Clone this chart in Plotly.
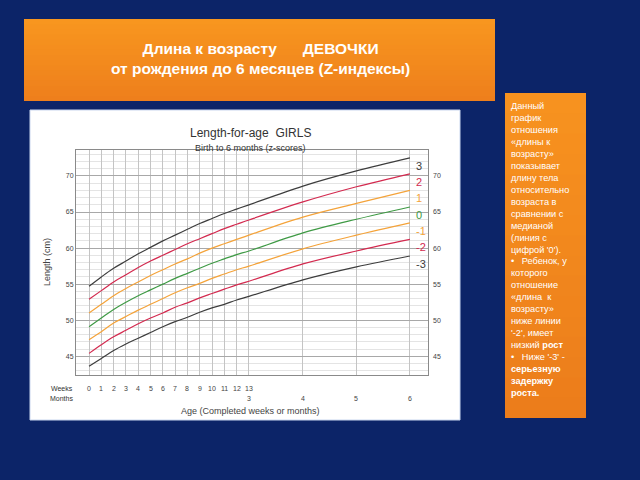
import plotly.graph_objects as go

# возраст: недели 0-13, затем месяцы 4-6
weeks = list(range(0, 14))
months = [4, 5, 6]
month_ticks = [3, 4, 5, 6]
WEEKS_PER_MONTH = 30.4375 / 7

# z-индексы, длина (см)
z_labels = ['3', '2', '1', '0', '-1', '-2', '-3']
len_p3 = [54.7, 56.0, 57.2, 58.2, 59.2, 60.1, 61.0, 61.8, 62.6, 63.4, 64.1, 64.8, 65.4, 66.0, 68.6, 70.7, 72.5]
len_p2 = [52.9, 54.1, 55.3, 56.3, 57.3, 58.2, 59.0, 59.8, 60.6, 61.3, 62.0, 62.7, 63.3, 63.9, 66.4, 68.5, 70.3]
len_p1 = [51.0, 52.2, 53.4, 54.4, 55.3, 56.2, 57.0, 57.8, 58.5, 59.3, 60.0, 60.6, 61.2, 61.8, 64.3, 66.2, 68.0]
len_0 = [49.1, 50.3, 51.5, 52.5, 53.4, 54.2, 55.0, 55.8, 56.5, 57.2, 57.9, 58.5, 59.1, 59.6, 62.1, 64.0, 65.7]
len_m1 = [47.3, 48.4, 49.6, 50.5, 51.4, 52.2, 53.0, 53.8, 54.5, 55.1, 55.8, 56.4, 57.0, 57.5, 59.9, 61.8, 63.5]
len_m2 = [45.4, 46.6, 47.7, 48.6, 49.5, 50.3, 51.0, 51.8, 52.4, 53.1, 53.7, 54.3, 54.9, 55.4, 57.8, 59.6, 61.2]
len_m3 = [43.6, 44.7, 45.8, 46.7, 47.5, 48.3, 49.1, 49.8, 50.4, 51.1, 51.7, 52.2, 52.8, 53.3, 55.6, 57.4, 58.9]
y_ticks = [45, 50, 55, 60, 65, 70]

series = [len_p3, len_p2, len_p1, len_0, len_m1, len_m2, len_m3]
colors = ['#3d3d3d', '#d32a4f', '#f4a33a', '#3f9a45', '#f4a33a', '#d32a4f', '#3d3d3d']

age = weeks + [m * WEEKS_PER_MONTH for m in months]
grid_x = weeks + [m * WEEKS_PER_MONTH for m in months]

NAVY = '#0c2468'

fig = go.Figure()
for name, vals, col in zip(z_labels, series, colors):
    fig.add_trace(go.Scatter(x=age, y=vals, mode='lines', name=name,
                             line=dict(color=col, width=1.2, shape='spline'),
                             showlegend=False, hoverinfo='skip'))
    fig.add_annotation(x=age[-1], y=vals[-1], text=name, showarrow=False,
                       xanchor='left', yanchor='middle', xshift=4, yshift=-8,
                       font=dict(size=11, color=col, family='Liberation Sans'))

# невидимый след для правой оси
fig.add_trace(go.Scatter(x=[age[0]], y=[len_0[0]], yaxis='y2', mode='markers',
                         marker=dict(opacity=0), showlegend=False, hoverinfo='skip'))

shapes = []
# фон-картинка графика
shapes.append(dict(type='rect', xref='paper', yref='paper',
                   x0=30/640, x1=460/640, y0=1-420/480, y1=1-110/480,
                   fillcolor='white', line=dict(color='#c9d6ee', width=1), layer='below'))

def gradient_box(x0, x1, y0, y1, top, bottom, n=16):
    # вертикальный градиент: полосы от своей верхней границы до низа коробки
    def mix(a, b, t):
        a = [int(a[i:i+2], 16) for i in (1, 3, 5)]
        b = [int(b[i:i+2], 16) for i in (1, 3, 5)]
        return 'rgb(%d,%d,%d)' % tuple(round(a[k] + (b[k]-a[k])*t) for k in range(3))
    h = (y1 - y0) / n
    for i in range(n):
        shapes.append(dict(type='rect', xref='paper', yref='paper',
                           x0=x0/640, x1=x1/640,
                           y0=1-y1/480, y1=1-(y0+i*h)/480,
                           fillcolor=mix(top, bottom, i/(n-1)), line=dict(width=0),
                           layer='below'))

gradient_box(24, 495, 19, 101, '#f8961f', '#ee7f1c')
gradient_box(505, 586, 93, 418, '#f7921f', '#ec7d1b')

fig.update_layout(shapes=shapes)

def note(x, y, text, size, color, **kw):
    fig.add_annotation(x=x/640, y=1-y/480, xref='paper', yref='paper', text=text,
                       showarrow=False, xanchor=kw.pop('xanchor', 'center'),
                       yanchor='middle', font=dict(size=size, color=color), **kw)

# подписи оси X
for w in weeks:
    fig.add_annotation(x=w, y=1-388/480, xref='x', yref='paper', text=str(w),
                       showarrow=False, yanchor='middle', font=dict(size=7, color='#444'))
for m in month_ticks:
    fig.add_annotation(x=m * WEEKS_PER_MONTH, y=1-398/480, xref='x', yref='paper',
                       text=str(m), showarrow=False, yanchor='middle',
                       font=dict(size=7, color='#444'))
note(75, 388, 'Weeks', 7, '#333', xanchor='right')
note(75, 398, 'Months', 7, '#333', xanchor='right')
note(250, 411, 'Age (Completed weeks or months)', 9, '#444')
note(47, 262, 'Length (cm)', 9, '#444', textangle=-90)
note(250, 133, 'Length-for-age  GIRLS', 12, '#333')
note(250, 148, 'Birth to 6 months (z-scores)', 9, '#333')

# заголовок слайда
note(260, 58, '<b>Длина к возрасту      ДЕВОЧКИ</b><br><b>от рождения до 6 месяцев (Z-индексы)</b>',
     15.5, 'white', align='center')

side_lines = [
    'Данный', 'график', 'отношения', '«длины к', 'возрасту»', 'показывает',
    'длину тела', 'относительно', 'возраста в', 'сравнении с', 'медианой',
    '(линия с', "цифрой '0').", "•   Ребенок, у", 'которого', 'отношение',
    '«длина  к', 'возрасту»', 'ниже линии', "'-2', имеет", 'низкий <b>рост</b>',
    "•   Ниже '-3' -", '<b>серьезную</b>', '<b>задержку</b>', '<b>роста.</b>'
]
fig.add_annotation(x=509/640, y=1-99/480, xref='paper', yref='paper',
                   text='<br>'.join(side_lines), showarrow=False,
                   xanchor='left', yanchor='top', align='left',
                   font=dict(size=9.2, color='white'))

fig.update_layout(
    width=640, height=480,
    margin=dict(l=0, r=0, t=0, b=0),
    paper_bgcolor=NAVY,
    plot_bgcolor='white',
    xaxis=dict(domain=[76/640, 428/640], range=[-1.06, 27.56],
               tickvals=grid_x, showticklabels=False, ticks='',
               showgrid=True, gridcolor='#c4c4c4', gridwidth=1,
               zeroline=False, showline=True, linecolor='#8a8a8a', mirror=True),
    yaxis=dict(domain=[1-375/480, 1-150/480], range=[42.4, 73.6],
               tickvals=y_ticks, ticks='', showgrid=True, gridcolor='#a8a8a8',
               minor=dict(dtick=1, showgrid=True, gridcolor='#e4e4e4'),
               tickfont=dict(size=7, color='#444'),
               zeroline=False, showline=True, linecolor='#8a8a8a', mirror=True),
    yaxis2=dict(overlaying='y', side='right', range=[42.4, 73.6],
                tickvals=y_ticks, ticks='', showgrid=False, zeroline=False,
                ticklabelstandoff=4,
                tickfont=dict(size=7, color='#444')),
    font=dict(family='Liberation Sans'),
)

fig.write_html("out.html", config={'displayModeBar': False},
               post_script="document.body.style.margin='0';document.body.style.background='%s';" % NAVY)
